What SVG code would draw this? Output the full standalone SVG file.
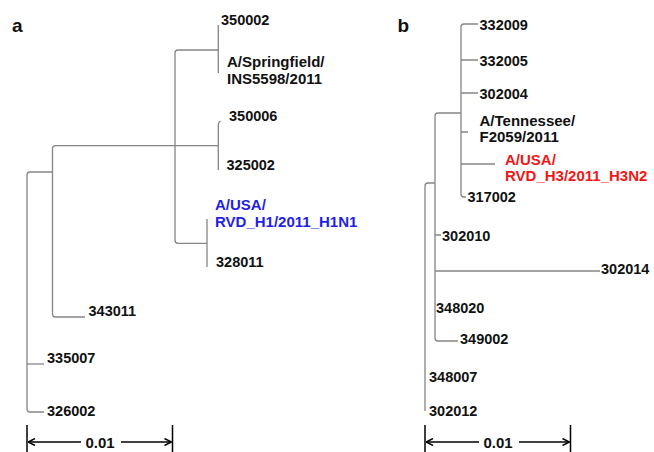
<svg xmlns="http://www.w3.org/2000/svg" width="654" height="452" viewBox="0 0 654 452">
<defs>
<style>
.t{font-family:"Liberation Sans",Arial,sans-serif;font-weight:bold;font-size:14.5px;fill:#111}
.n{font-size:15px}
.p{font-size:19px}
.blue{fill:#1f1fe6}
.red{fill:#f01818}
.br{fill:none;stroke:#858585;stroke-width:1.3}
.sc{fill:none;stroke:#000;stroke-width:1.5}
</style>
<marker id="ah" viewBox="0 0 8 8" refX="7.5" refY="4" markerWidth="8" markerHeight="8" markerUnits="userSpaceOnUse" orient="auto">
<path d="M0.5,0.5 L7.5,4 L0.5,7.5" fill="none" stroke="#000" stroke-width="1.5"/>
</marker>
</defs>
<rect width="654" height="452" fill="#fff"/>
<g id="connectors">
<path class="br" d="M53,172 H30 Q27,172 27,175 V409 Q27,412 30,412 H44"/>
<path class="br" d="M27,364 H44"/>
<path class="br" d="M85,317 H55.5 Q52.5,317 52.5,314 V148.7 Q52.5,145.7 55.5,145.7 H218"/>
<path class="br" d="M218,50 H178 Q175,50 175,53 V240.3 Q175,243.3 178,243.3 H207"/>
<path class="br" d="M218.3,25 V73"/>
<path class="br" d="M218.3,170 V124.5 Q218.3,122 220.5,121"/>
<path class="br" d="M207,219 V267"/>
<path class="br" d="M435,183 H428 Q425,183 425,186 V411"/>
<path class="br" d="M458,341 H438 Q435,341 435,338 V116 Q435,113 438,113 H461"/>
<path class="br" d="M478,24 H464 Q461,24 461,27 V194 Q461,197 464,197 H466"/>
<path class="br" d="M461,60 H478 M461,93 H478 M461,132 H468 M461,164 H495"/>
<path class="br" d="M435,235 H441 M435,271 H600"/>
</g>
<g id="scale-a">
<path class="sc" d="M27,425 V452 M172.5,425 V452"/>
<line class="sc" x1="81" y1="442" x2="28" y2="442" marker-end="url(#ah)"/>
<line class="sc" x1="121" y1="442" x2="171.5" y2="442" marker-end="url(#ah)"/>
<text class="t n" x="100" y="447.5" text-anchor="middle">0.01</text>
</g>
<g id="scale-b">
<path class="sc" d="M425,425 V452 M570.5,425 V452"/>
<line class="sc" x1="479" y1="442" x2="426" y2="442" marker-end="url(#ah)"/>
<line class="sc" x1="519" y1="442" x2="569.5" y2="442" marker-end="url(#ah)"/>
<text class="t n" x="498" y="447.5" text-anchor="middle">0.01</text>
</g>
<g id="label-a"><text class="t p" x="12" y="32.3">a</text></g>
<g id="label-b"><text class="t p" x="397.5" y="32.3">b</text></g>
<g id="n350002"><text class="t" x="221" y="24.5">350002</text></g>
<g id="nSpringfield"><text class="t n" x="227" y="66.5">A/Springfield/</text><text class="t n" x="227" y="83.5">INS5598/2011</text></g>
<g id="n350006"><text class="t" x="229" y="121">350006</text></g>
<g id="n325002"><text class="t" x="226.5" y="170">325002</text></g>
<g id="nRVD_H1"><text class="t n blue" x="215" y="209.5">A/USA/</text><text class="t n blue" x="215" y="227">RVD_H1/2011_H1N1</text></g>
<g id="n328011"><text class="t" x="216" y="266.5">328011</text></g>
<g id="n343011"><text class="t" x="88.5" y="315.5">343011</text></g>
<g id="n335007"><text class="t" x="47" y="363">335007</text></g>
<g id="n326002"><text class="t" x="47" y="415.7">326002</text></g>
<g id="n332009"><text class="t" x="479.5" y="29.5">332009</text></g>
<g id="n332005"><text class="t" x="479.5" y="65.7">332005</text></g>
<g id="n302004"><text class="t" x="479.5" y="98.7">302004</text></g>
<g id="nTennessee"><text class="t n" x="479.5" y="126">A/Tennessee/</text><text class="t n" x="479.5" y="141.5">F2059/2011</text></g>
<g id="nRVD_H3"><text class="t n red" x="505" y="165">A/USA/</text><text class="t n red" x="505" y="180.7">RVD_H3/2011_H3N2</text></g>
<g id="n317002"><text class="t" x="467.5" y="202">317002</text></g>
<g id="n302010"><text class="t" x="442" y="240.5">302010</text></g>
<g id="n302014"><text class="t" x="601" y="274">302014</text></g>
<g id="n348020"><text class="t" x="436" y="313">348020</text></g>
<g id="n349002"><text class="t" x="460" y="344">349002</text></g>
<g id="n348007"><text class="t" x="429" y="381.5">348007</text></g>
<g id="n302012"><text class="t" x="429" y="415.5">302012</text></g>
</svg>
